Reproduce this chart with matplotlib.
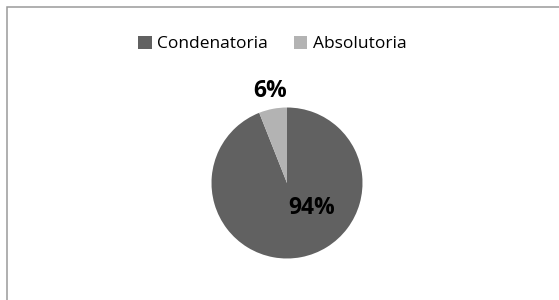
import matplotlib
matplotlib.use("Agg")
import matplotlib.pyplot as plt
from matplotlib.patches import Rectangle, Patch

labels = ["Condenatoria", "Absolutoria"]
values = [94, 6]
colors = ["#616161", "#b3b3b3"]
pct_labels = ["94%", "6%"]

W, H = 559, 300
fig = plt.figure(figsize=(W / 100, H / 100), dpi=100)
fig.patch.set_facecolor("white")

# outer chart frame (cut off on the right and bottom)
fig.patches.append(Rectangle((6.5 / W, -0.1), 1.2, 1 - 6.5 / H + 0.1,
                             transform=fig.transFigure, fill=False,
                             edgecolor="#9a9a9a", linewidth=1.1))

cx, cy, r = 287, 183, 75.5
ax = fig.add_axes([(cx - r) / W, (H - cy - r) / H, 2 * r / W, 2 * r / H])
ax.pie(values, colors=colors, startangle=90, counterclock=False,
       wedgeprops=dict(linewidth=0), radius=1)
ax.set_xlim(-1, 1)
ax.set_ylim(-1, 1)
ax.set_aspect("equal")
ax.axis("off")

fontf = ["Open Sans", "DejaVu Sans"]
ax.text(0.33, -0.33, pct_labels[0], ha="center", va="center",
        fontsize=16.5, fontweight="bold", family=fontf, color="black")
ax.text(-0.23, 1.22, pct_labels[1], ha="center", va="center",
        fontsize=16.5, fontweight="bold", family=fontf, color="black",
        clip_on=False)

handles = [Patch(facecolor=c, edgecolor="none") for c in colors]
fig.legend(handles, labels, loc="center", bbox_to_anchor=(272 / W, 1 - 44 / H),
           ncol=2, frameon=False, prop={"family": fontf, "size": 12.5},
           handlelength=0.8, handleheight=0.8, handletextpad=0.3,
           columnspacing=1.5)

fig.savefig("out.png", dpi=100, facecolor="white")
